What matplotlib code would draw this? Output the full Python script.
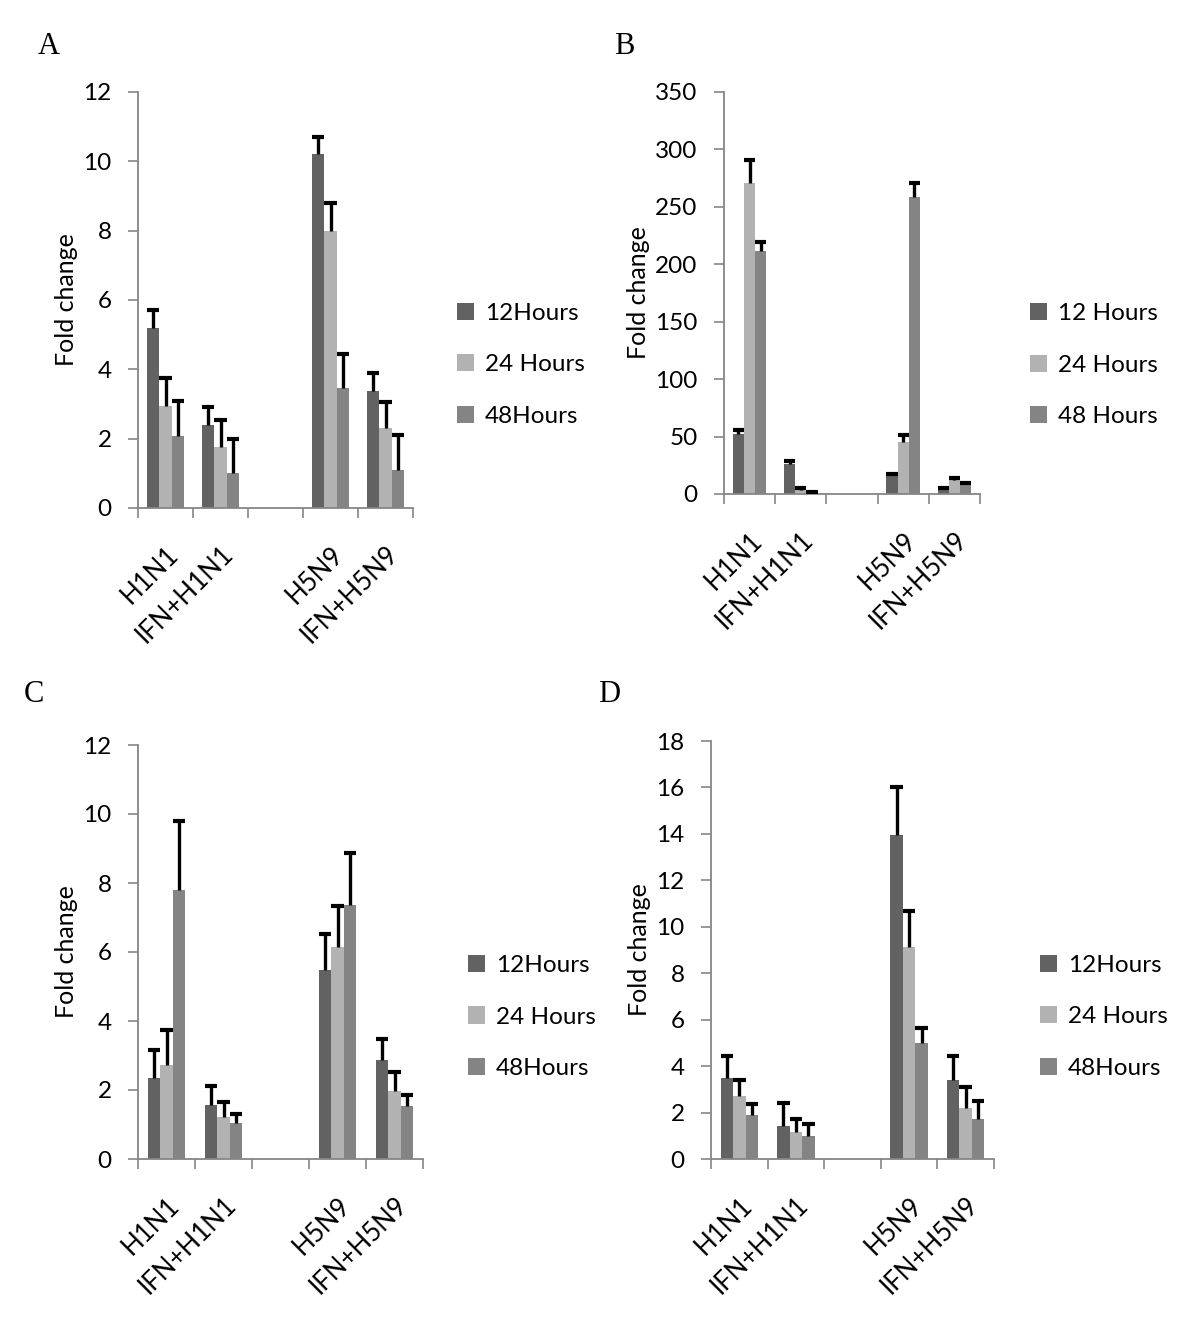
import numpy as np
import matplotlib
matplotlib.use('Agg')
import matplotlib.pyplot as plt

categories = ['H1N1', 'IFN+H1N1', '', 'H5N9', 'IFN+H5N9']
colors     = ['#626262', '#b2b2b2', '#848484']

# panel A
a_labels = ['12Hours', '24 Hours', '48Hours']
a_12 = [5.2, 2.4, 0, 10.2, 3.38]
a_24 = [2.95, 1.75, 0, 8.0, 2.3]
a_48 = [2.08, 1.02, 0, 3.45, 1.1]
a_12_err = [5.7, 2.92, 0, 10.7, 3.88]
a_24_err = [3.75, 2.55, 0, 8.8, 3.05]
a_48_err = [3.08, 2.0, 0, 4.45, 2.12]

# panel B
b_labels = ['12 Hours', '24 Hours', '48 Hours']
b_12 = [52, 26, 0, 17.4, 4]
b_24 = [271, 3.5, 0, 45.5, 12]
b_48 = [212, 2, 0, 259, 8.7]
b_12_err = [55.7, 29, 0, 17.4, 5.5]
b_24_err = [291, 5, 0, 51, 13.6]
b_48_err = [219, 2, 0, 271, 9.9]

# panel C
c_labels = ['12Hours', '24 Hours', '48Hours']
c_12 = [2.36, 1.57, 0, 5.48, 2.87]
c_24 = [2.72, 1.22, 0, 6.14, 1.98]
c_48 = [7.79, 1.03, 0, 7.36, 1.54]
c_12_err = [3.17, 2.11, 0, 6.51, 3.48]
c_24_err = [3.75, 1.64, 0, 7.34, 2.51]
c_48_err = [9.81, 1.31, 0, 8.87, 1.86]

# panel D
d_labels = ['12Hours', '24 Hours', '48Hours']
d_12 = [3.47, 1.40, 0, 13.97, 3.40]
d_24 = [2.70, 1.18, 0, 9.13, 2.21]
d_48 = [1.88, 1.0, 0, 5.01, 1.71]
d_12_err = [4.44, 2.43, 0, 16.0, 4.44]
d_24_err = [3.42, 1.73, 0, 10.69, 3.08]
d_48_err = [2.38, 1.49, 0, 5.64, 2.50]

plt.rcParams['font.family'] = ['Lato', 'DejaVu Sans']

W, H = 1200, 1328
fig = plt.figure(figsize=(W/100, H/100), dpi=100)


def px_axes(left, right, top, bottom):
    return fig.add_axes([left/W, 1-bottom/H, (right-left)/W, (bottom-top)/H])


def PlotPanel(ax, series, errs, labels, ymax, ystep, leg_pos, letter, letter_pos):
    x = np.arange(len(categories))
    bw = 0.22
    for i in range(3):
        xs = x + (i-1)*bw
        vals = np.array(series[i])
        tops = np.array(errs[i])
        ax.bar(xs, vals, bw, color=colors[i], label=labels[i], zorder=2)
        m = (vals > 0) & (tops > vals)
        ax.vlines(xs[m], vals[m], tops[m], color='black', lw=2.4, zorder=3)
        m2 = vals > 0
        ax.hlines(tops[m2], xs[m2]-0.11, xs[m2]+0.11, color='black', lw=3, zorder=3)
    ax.set_xlim(-0.5, len(categories)-0.5)
    ax.set_ylim(0, ymax)
    ax.set_yticks(np.arange(0, ymax+ystep/2, ystep))
    ax.set_xticks(x)
    ax.set_xticklabels(categories, rotation=45, ha='right', rotation_mode='anchor', fontsize=18.5)
    ax.set_xticks(np.arange(-0.5, len(categories)), minor=True)
    ax.tick_params(axis='x', which='major', length=0, pad=24)
    ax.tick_params(axis='x', which='minor', length=7, width=1.2, color='#868686', direction='out')
    ax.tick_params(axis='y', length=7, width=1.2, color='#868686', labelsize=17.5, pad=12)
    for s in ['top', 'right']:
        ax.spines[s].set_visible(False)
    for s in ['left', 'bottom']:
        ax.spines[s].set_color('#868686')
        ax.spines[s].set_linewidth(1.3)
    ax.set_ylabel('Fold change', fontsize=18, labelpad=4)
    ax.legend(loc='center left', bbox_to_anchor=leg_pos, frameon=False, fontsize=17.5,
              handlelength=0.7, handleheight=0.7, labelspacing=1.25, handletextpad=0.45,
              borderpad=0, borderaxespad=0)
    fig.text(letter_pos[0]/W, 1-letter_pos[1]/H, letter, fontsize=22,
             family=['Liberation Serif', 'DejaVu Serif'], va='center', ha='left')


axA = px_axes(138, 413, 92, 508)
PlotPanel(axA, [a_12, a_24, a_48], [a_12_err, a_24_err, a_48_err], a_labels, 12, 2,
          (1.16, 0.344), 'A', (38, 46))

axB = px_axes(724, 980, 92, 494)
PlotPanel(axB, [b_12, b_24, b_48], [b_12_err, b_24_err, b_48_err], b_labels, 350, 50,
          (1.195, 0.32), 'B', (614, 46))

axC = px_axes(138, 423, 745, 1159)
PlotPanel(axC, [c_12, c_24, c_48], [c_12_err, c_24_err, c_48_err], c_labels, 12, 2,
          (1.158, 0.343), 'C', (24, 695))

axD = px_axes(711, 994, 741, 1159)
PlotPanel(axD, [d_12, d_24, d_48], [d_12_err, d_24_err, d_48_err], d_labels, 18, 2,
          (1.163, 0.34), 'D', (598, 695))

plt.savefig('out.png', dpi=100)
